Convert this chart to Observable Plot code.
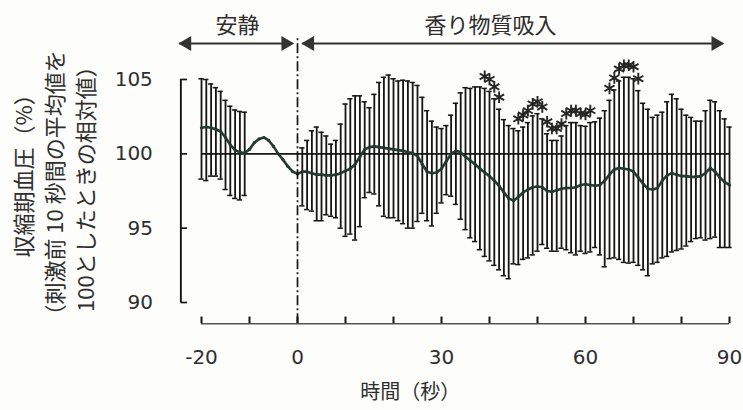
<!DOCTYPE html>
<html><head><meta charset="utf-8">
<script src="https://cdn.jsdelivr.net/npm/d3@7"></script>
<script src="https://cdn.jsdelivr.net/npm/@observablehq/plot@0.6"></script>
<style>
html,body{margin:0;padding:0;background:#fdfdfb;}
#chart svg{display:block;}
</style></head><body><div id="chart"></div>
<script>
// time (s) of each mean value
const meanTime = [-20,-19,-18,-17,-16,-15,-14,-13,-12,-11,-10,-9,-8,-7,-6,-5,-4,-3,-2,-1,0,
 1,2,3,4,5,6,7,8,9,10,11,12,13,14,15,16,17,18,19,20,21,22,23,24,25,26,27,28,29,30,
 31,32,33,34,35,36,37,38,39,40,41,42,43,44,45,46,47,48,49,50,51,52,53,54,55,56,57,58,59,60,
 61,62,63,64,65,66,67,68,69,70,71,72,73,74,75,76,77,78,79,80,81,82,83,84,85,86,87,88,89,90];
const meanValue = [101.75,101.8,101.75,101.65,101.5,101.1,100.6,100.25,100.1,100.05,
 100.3,100.75,101.0,101.1,100.9,100.5,100.0,99.6,99.15,98.8,98.65,
 98.8,98.8,98.7,98.6,98.6,98.55,98.55,98.6,98.7,98.85,
 99.0,99.3,99.8,100.3,100.45,100.5,100.45,100.4,100.35,100.3,
 100.25,100.2,100.1,100.05,99.85,99.3,98.8,98.7,98.75,99.0,
 99.5,100.0,100.2,100.1,99.8,99.55,99.3,99.0,98.75,98.5,
 98.2,97.85,97.4,97.0,96.85,97.1,97.4,97.6,97.75,97.8,
 97.75,97.5,97.45,97.55,97.65,97.7,97.7,97.75,97.9,97.95,
 97.9,97.85,97.9,98.2,98.6,98.95,99.05,99.0,98.95,98.8,
 98.4,98.0,97.65,97.6,97.7,98.2,98.55,98.7,98.6,98.5,
 98.5,98.45,98.45,98.5,98.7,99.05,98.8,98.4,98.1,97.9];

// error bars: rest period
const restTime = meanTime.slice(0, 10);
const restHigh = [105.05,105.0,104.7,104.45,104.2,103.6,103.2,102.95,102.85,102.8];
const restLow  = [98.3,98.2,98.5,98.5,98.3,97.6,97.2,97.0,96.9,97.2];

// error bars: inhalation period (1..90 s)
const actTime = meanTime.slice(21);
const actHigh = [100.4,100.9,101.55,101.8,101.45,101.2,100.65,100.9,102.0,103.35,
 103.7,103.9,103.9,103.5,103.1,104.0,104.8,105.15,105.3,105.05,
 104.9,104.95,104.9,104.8,104.6,103.8,102.9,102.2,101.8,101.7,
 101.9,102.6,103.4,104.1,104.45,104.4,104.5,104.5,104.4,104.2,
 103.7,103.0,102.3,101.9,101.7,101.55,101.8,102.1,102.55,102.7,
 102.35,101.35,100.9,100.9,101.2,101.9,102.1,102.1,101.9,101.85,
 102.1,102.15,102.4,102.9,103.6,104.3,104.9,105.15,105.15,105.05,
 104.25,103.4,103.0,102.45,102.6,102.8,103.5,104.0,103.7,103.0,
 102.6,102.45,102.2,102.2,102.9,103.6,103.5,102.9,102.35,101.8];
const actLow = [96.5,96.25,96.15,95.5,95.5,95.9,95.8,95.7,95.0,94.45,
 94.6,94.2,95.1,97.05,97.4,97.3,96.5,95.8,95.7,95.7,
 95.5,95.3,95.0,95.0,95.45,96.0,95.5,95.15,96.0,96.7,
 97.25,97.15,96.6,95.6,94.9,94.35,94.1,93.55,93.1,92.8,
 92.5,92.2,91.8,91.6,92.6,92.55,92.9,93.0,93.2,93.45,
 93.9,93.65,93.45,93.45,93.65,93.55,93.35,93.2,93.45,93.3,
 93.4,93.7,93.2,92.4,92.95,93.0,92.9,92.7,92.65,92.7,
 92.5,92.2,91.8,92.6,92.7,93.0,93.1,93.4,93.5,93.6,
 93.8,94.1,94.3,94.35,94.2,94.3,94.4,93.7,93.7,93.7];

// significant time points (asterisks)
const sigTime = [39,40,41,42,46,47,48,49,50,51,52,53,54,55,56,57,58,59,60,61,65,66,67,68,69,70,71];

// axes
const yTicks = [90, 95, 100, 105];
const xTicks = [-20,-10,0,10,20,30,40,50,60,70,80,90];
const xLabels = [-20, 0, 30, 60, 90];
const xTitle = "時間（秒）";
const yTitle = ["収縮期血圧（%）", "（刺激前 10 秒間の平均値を", "100としたときの相対値）"];

// phase annotations
const phaseLabel = ["安静", "香り物質吸入"];
const phaseStart = [-24.5, 1.1];
const phaseEnd = [-1.0, 88.6];
const phaseCenter = [-12.5, 40.2];

// layout constants (data units)
const AXIS_Y = 88.57, YAXIS_X = -24.3, ARROW_Y = 107.42, LABEL_Y = 108.6, TOP_Y = 107.9;

const mean = meanTime.map((t, i) => ({t, v: meanValue[i]}));
const bars = restTime.map((t, i) => ({t, hi: restHigh[i], lo: restLow[i]}))
  .concat(actTime.map((t, i) => ({t, hi: actHigh[i], lo: actLow[i]})));
const sig = sigTime.map(t => bars.find(b => b.t === t));
const phases = phaseLabel.map((l, i) => ({l, x1: phaseStart[i], x2: phaseEnd[i], xc: phaseCenter[i]}));

const ink = "#141414";
const txt = "#2e2e2e";
const cjk = "'Noto Sans CJK JP', 'Noto Sans', sans-serif";

const chart = Plot.plot({
  width: 743, height: 410,
  marginLeft: 201, marginRight: 14, marginTop: 79, marginBottom: 108,
  x: {domain: [-20, 90], axis: null},
  y: {domain: [90, 105], axis: null},
  style: {background: "transparent", fontFamily: "'DejaVu Sans', sans-serif", color: txt},
  marks: [
    // reference line at 100
    Plot.ruleY([100], {x1: -20, x2: 90, stroke: ink, strokeWidth: 1.6}),
    // error bars
    Plot.ruleX(bars, {x: "t", y1: "lo", y2: "hi", stroke: ink, strokeWidth: 1.8}),
    Plot.ruleY(bars, {y: "hi", x1: d => d.t - 0.55, x2: d => d.t + 0.55, stroke: ink, strokeWidth: 1.5}),
    Plot.ruleY(bars, {y: "lo", x1: d => d.t - 0.55, x2: d => d.t + 0.55, stroke: ink, strokeWidth: 1.5}),
    // mean line
    Plot.line(mean, {x: "t", y: "v", stroke: "#243934", strokeWidth: 2.6}),
    Plot.dot(mean, {x: "t", y: "v", r: 1.6, fill: "#243934"}),
    // asterisks
    Plot.dot(sig, {x: "t", y: "hi", dy: -12, symbol: "asterisk", r: 5.5, stroke: "#262626", strokeWidth: 1.9}),
    // stimulus onset dash-dot line
    Plot.ruleX([0], {y1: AXIS_Y, y2: TOP_Y, stroke: ink, strokeWidth: 1.7, strokeDasharray: "10,3,2,3"}),
    // y axis bracket and ticks
    Plot.ruleX([YAXIS_X], {y1: 90, y2: 105, stroke: ink, strokeWidth: 1.9}),
    Plot.ruleY(yTicks, {x1: YAXIS_X, x2: YAXIS_X + 1.4, stroke: ink, strokeWidth: 1.7}),
    Plot.text(yTicks, {x: YAXIS_X, y: d => d, text: d => String(d), textAnchor: "end", dx: -28, fontSize: 20, fill: txt}),
    // x axis
    Plot.ruleY([AXIS_Y], {x1: -20, x2: 90, stroke: "#555", strokeWidth: 1.5}),
    Plot.ruleX(xTicks, {x: d => d, y1: AXIS_Y, y2: AXIS_Y + 0.45, stroke: ink, strokeWidth: 2}),
    Plot.text(xLabels, {x: d => d, y: AXIS_Y, text: d => String(d), dy: 34, fontSize: 20, fill: txt}),
    Plot.text([xTitle], {x: 23.5, y: AXIS_Y, dy: 69, text: d => d, fontSize: 20, fontFamily: cjk, fill: txt}),
    // y titles
    Plot.text([yTitle[0]], {x: -56.7, y: 98.88, text: d => d, rotate: -90, fontSize: 22, fontFamily: cjk, fill: txt}),
    Plot.text([yTitle[1]], {x: -50.4, y: 97.67, text: d => d, rotate: -90, fontSize: 22, fontFamily: cjk, fill: txt}),
    Plot.text([yTitle[2]], {x: -43.9, y: 98.0, text: d => d, rotate: -90, fontSize: 22, fontFamily: cjk, fill: txt}),
    // phase arrows
    Plot.ruleY(phases, {y: ARROW_Y, x1: "x1", x2: "x2", stroke: "#333", strokeWidth: 2}),
    Plot.dot(phases, {x: "x1", y: ARROW_Y, symbol: "triangle", rotate: -90, r: 5.5, dx: 7, fill: "#333"}),
    Plot.dot(phases, {x: "x2", y: ARROW_Y, symbol: "triangle", rotate: 90, r: 5.5, dx: -7, fill: "#333"}),
    Plot.text(phases, {x: "xc", y: LABEL_Y, text: "l", fontSize: 22, fontFamily: cjk, fill: txt})
  ]
});
document.getElementById("chart").appendChild(chart);
</script></body></html>
